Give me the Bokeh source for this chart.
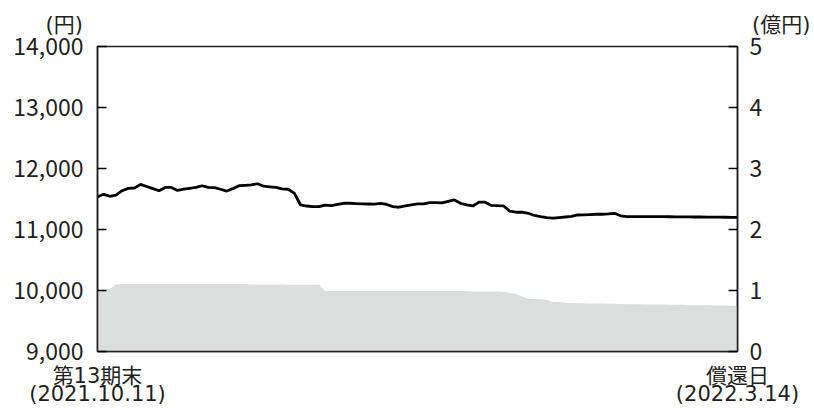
from bokeh.plotting import figure
from bokeh.models import (Range1d, LinearAxis, FixedTicker, NumeralTickFormatter,
                          ColumnDataSource)
from bokeh.embed import file_html
from bokeh.resources import INLINE

# ---- data ----
price = [11537, 11577, 11545, 11565, 11636, 11675, 11680, 11740, 11705, 11670,
         11635, 11690, 11690, 11640, 11660, 11675, 11690, 11717, 11690, 11685,
         11660, 11630, 11670, 11717, 11725, 11730, 11750, 11710, 11700, 11690,
         11665, 11660, 11593, 11402, 11385, 11375, 11374, 11400, 11390, 11410,
         11430, 11430, 11425, 11420, 11418, 11415, 11430, 11410, 11375, 11365,
         11386, 11405, 11420, 11420, 11440, 11440, 11435, 11460, 11484, 11430,
         11405, 11386, 11448, 11448, 11395, 11390, 11386, 11300, 11283, 11283,
         11266, 11230, 11211, 11195, 11185, 11195, 11205, 11215, 11238, 11240,
         11245, 11250, 11250, 11255, 11266, 11225, 11211, 11212, 11212, 11211,
         11211, 11210, 11210, 11209, 11208, 11207, 11206, 11205, 11205, 11204,
         11203, 11202, 11201, 11200, 11200]

assets = [1.00, 1.00, 1.03, 1.10, 1.106, 1.106, 1.106, 1.106, 1.106, 1.106,
          1.106, 1.106, 1.106, 1.106, 1.106, 1.106, 1.106, 1.106, 1.106, 1.106,
          1.106, 1.106, 1.106, 1.106, 1.106, 1.10, 1.10, 1.10, 1.10, 1.10,
          1.10, 1.095, 1.095, 1.095, 1.095, 1.095, 1.095, 0.99, 0.99, 0.99,
          0.99, 0.99, 0.99, 0.99, 0.99, 0.99, 0.99, 0.99, 0.99, 0.99,
          0.99, 0.99, 0.99, 0.99, 0.99, 0.99, 0.99, 0.99, 0.99, 0.99,
          0.99, 0.985, 0.985, 0.985, 0.985, 0.985, 0.975, 0.96, 0.945, 0.90,
          0.866, 0.862, 0.858, 0.85, 0.812, 0.81, 0.80, 0.795, 0.79, 0.789,
          0.788, 0.786, 0.785, 0.783, 0.782, 0.78, 0.775, 0.774, 0.773, 0.772,
          0.771, 0.770, 0.769, 0.768, 0.767, 0.765, 0.76, 0.759, 0.758, 0.757,
          0.756, 0.755, 0.754, 0.752, 0.75]

days = list(range(len(price)))

left_ticks = [9000, 10000, 11000, 12000, 13000, 14000]
right_ticks = [0, 1, 2, 3, 4, 5]
x_labels_1 = {0: "第13期末", days[-1]: "償還日"}
x_labels_2 = {0: "(2021.10.11)", days[-1]: "(2022.3.14)"}
unit_left = "(円)"
unit_right = "(億円)"

FONT = "Noto Sans CJK JP"
STACK = "'DejaVu Sans', 'Noto Sans CJK JP'"
TXT = "#231f20"

src = ColumnDataSource(dict(d=days, price=price, assets=assets))

p = figure(width=814, height=408, output_backend="svg", toolbar_location=None,
           x_range=Range1d(days[0], days[-1]), y_range=Range1d(9000, 14000),
           min_border_left=97, min_border_right=77, min_border_top=46,
           min_border_bottom=56)
p.extra_y_ranges = {"r": Range1d(0, 5)}
p.grid.visible = False
p.outline_line_color = "#231f20"
p.outline_line_width = 1.5
p.background_fill_color = "white"
p.border_fill_color = "white"

p.varea(x="d", y1=0, y2="assets", source=src, y_range_name="r",
        fill_color="#dcdddd")
p.line(x="d", y="price", source=src, line_color="#000000", line_width=2.8)


def style_y(ax, standoff):
    ax.major_tick_in = 9
    ax.major_tick_out = 0
    ax.minor_tick_line_color = None
    ax.major_label_standoff = standoff
    ax.major_label_text_font = FONT
    ax.major_label_text_font_size = "23px"
    ax.major_label_text_color = TXT
    ax.axis_line_color = "#231f20"
    ax.axis_line_width = 1.5
    ax.major_tick_line_width = 1.5


ya = p.yaxis[0]
ya.ticker = FixedTicker(ticks=left_ticks)
ya.formatter = NumeralTickFormatter(format="0,0")
style_y(ya, 14)

ra = LinearAxis(y_range_name="r", ticker=FixedTicker(ticks=right_ticks))
style_y(ra, 12)
p.add_layout(ra, "right")


def style_x(ax, overrides, standoff, show_line, size="21px"):
    ax.ticker = FixedTicker(ticks=[days[0], days[-1]])
    ax.major_label_overrides = overrides
    ax.major_tick_in = 0
    ax.major_tick_out = 0
    ax.minor_tick_line_color = None
    ax.major_label_standoff = standoff
    ax.major_label_text_font = STACK
    ax.major_label_text_font_size = size
    ax.major_label_text_color = TXT
    ax.axis_line_color = "#231f20" if show_line else None
    ax.axis_line_width = 1.5


style_x(p.xaxis[0], x_labels_1, 12, True)
xa2 = LinearAxis()
style_x(xa2, x_labels_2, -9, False)
p.add_layout(xa2, "below")

# unit captions as labels of an axis above the frame (padded to sit outside the ticks)
IDEO = "\u3000"
top = LinearAxis()
style_x(top, {0: unit_left + IDEO * 3 + "\u2006",
              days[-1]: "\u2006" + IDEO * 4 + unit_right}, 10, False)
p.add_layout(top, "above")

open("out.html", "w").write(file_html(p, INLINE))
